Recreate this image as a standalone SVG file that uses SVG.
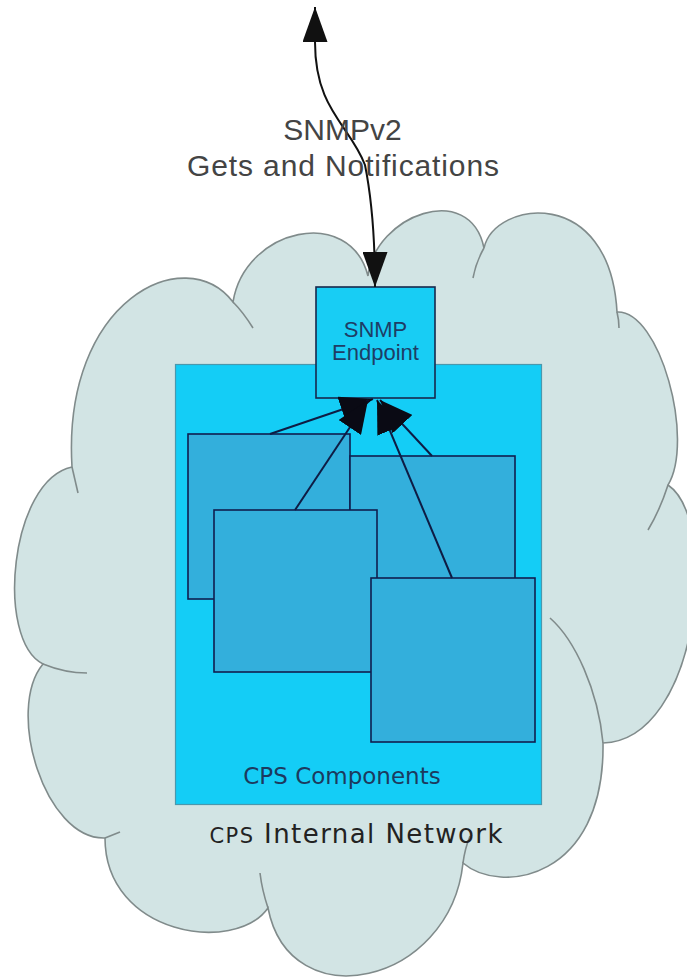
<svg xmlns="http://www.w3.org/2000/svg" width="687" height="979" viewBox="0 0 687 979">
  <style>
    .cloud { fill: #d2e4e4; stroke: #808b8b; stroke-width: 1.6; }
    .tail { fill: none; stroke: #808b8b; stroke-width: 1.6; }
    .outer { fill: #14cdf6; stroke: #4a98ad; stroke-width: 1.2; }
    .comp { fill: #33afdc; stroke: #0f1f4f; stroke-width: 1.6; }
    .endpoint { fill: #18cdf4; stroke: #17284d; stroke-width: 1.6; }
    .conn { fill: none; stroke: #0e1c44; stroke-width: 2; }
    .proto { fill: none; stroke: #111111; stroke-width: 2; }
    .lbl { font-family: "Liberation Sans", Arial, sans-serif; fill: #444444; font-size: 30px; }
    .ep { font-family: "Liberation Sans", Arial, sans-serif; fill: #1e3d66; font-size: 22px; }
    .dv { font-family: "DejaVu Sans", Verdana, sans-serif; }
  </style>
  <defs>
    <marker id="headBig" markerUnits="userSpaceOnUse" markerWidth="35" markerHeight="25" refX="35" refY="12.5" orient="auto-start-reverse" viewBox="0 0 35 25">
      <path d="M0,0 L35,12.5 L0,25 z" fill="#111111"/>
    </marker>
    <marker id="head" markerUnits="userSpaceOnUse" markerWidth="33" markerHeight="27" refX="33" refY="13.5" orient="auto" viewBox="0 0 33 27">
      <path d="M0,0 L33,13.5 L0,27 z" fill="#0a0a14"/>
    </marker>
  </defs>

  <g id="cps-internal-network">
    <path class="cloud" d="M233,302 C245,228 350,205 368,276 C375,215 470,180 484,248 C495,200 610,185 617,312 C660,310 695,440 668,485 C720,520 700,740 603,743 C605,880 500,895 463,863 C450,985 290,1020 268,908 C235,955 105,935 105,838 C45,840 5,710 43,664 C-5,640 10,480 72,467 C62,300 185,240 233,302 Z"/>
    <path class="tail" d="M253,328 Q243,312 233,302"/>
    <path class="tail" d="M473,278 Q476,262 484,248"/>
    <path class="tail" d="M617,312 Q619,320 619,328"/>
    <path class="tail" d="M668,485 Q660,510 648,530"/>
    <path class="tail" d="M550,618 C575,640 598,690 603,743"/>
    <path class="tail" d="M463,863 Q465,848 470,836"/>
    <path class="tail" d="M268,908 Q262,890 260,873"/>
    <path class="tail" d="M105,838 L120,832"/>
    <path class="tail" d="M43,664 Q65,673 87,673"/>
    <path class="tail" d="M72,467 Q75,480 78,493"/>
    <text class="dv" x="356" y="843" text-anchor="middle" fill="#222222" font-size="26" textLength="293" lengthAdjust="spacing"><tspan font-size="21">CPS</tspan> Internal Network</text>
  </g>

  <g id="cps-components">
    <rect class="outer" x="175.5" y="364.5" width="366" height="440"/>
    <text class="dv" x="342" y="784" text-anchor="middle" fill="#1c3a5e" font-size="23">CPS Components</text>
  </g>

  <g id="component-1"><rect class="comp" x="188" y="434" width="162" height="165"/></g>
  <g id="component-2"><rect class="comp" x="350" y="456" width="165" height="160"/></g>
  <g id="component-3"><rect class="comp" x="214" y="510" width="163" height="162"/></g>
  <g id="component-4"><rect class="comp" x="371" y="578" width="164" height="164"/></g>

  <g id="snmp-endpoint">
    <rect class="endpoint" x="316" y="287" width="119" height="111"/>
    <text class="ep" x="375.5" y="337" text-anchor="middle">SNMP</text>
    <text class="ep" x="375.5" y="360" text-anchor="middle">Endpoint</text>
  </g>

  <g id="connectors">
    <path class="proto" d="M315,7 L315,42 C315,110 350,125 365,165 C372,200 375,240 375,287" marker-start="url(#headBig)" marker-end="url(#headBig)"/>
    <line class="conn" x1="270" y1="434" x2="373" y2="399" marker-end="url(#head)"/>
    <line class="conn" x1="295" y1="510" x2="368" y2="400" marker-end="url(#head)"/>
    <line class="conn" x1="432" y1="456" x2="380" y2="400" marker-end="url(#head)"/>
    <line class="conn" x1="452" y1="578" x2="377" y2="400" marker-end="url(#head)"/>
    <text class="lbl" x="342.5" y="140" text-anchor="middle">SNMPv2</text>
    <text class="lbl" x="343" y="176" text-anchor="middle" textLength="312" lengthAdjust="spacing">Gets and Notifications</text>
  </g>
</svg>
